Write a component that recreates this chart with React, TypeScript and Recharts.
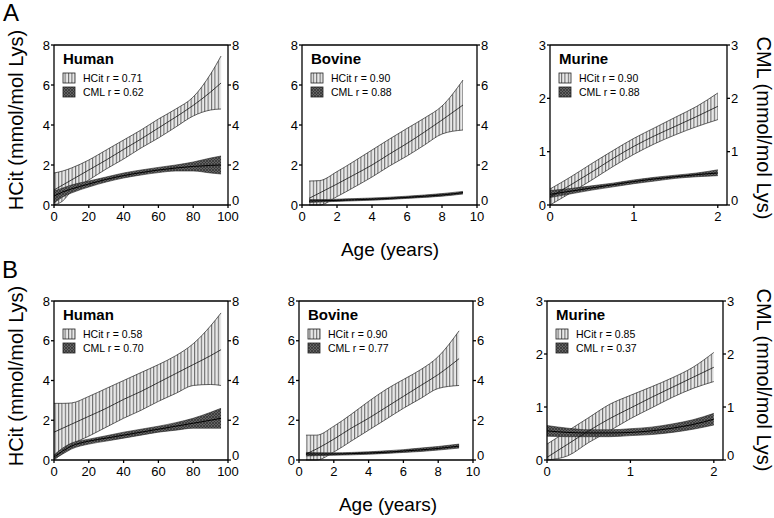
import React from "react";
import {
  ComposedChart,
  Area,
  Line,
  XAxis,
  YAxis,
  ReferenceLine,
} from "recharts";

// age grids (years)
const humanAge = [0, 5, 10, 20, 30, 40, 50, 60, 70, 80, 90, 96];
const bovineAge = [0.4, 1, 2, 3, 4, 5, 6, 7, 8, 9.2];
const murineAge = [0, 0.25, 0.5, 0.75, 1, 1.25, 1.5, 1.75, 2];

// A - Human
const humanA_hcitLo = [0, 0.2, 0.7, 1.25, 1.8, 2.3, 2.85, 3.35, 3.9, 4.45, 4.75, 4.8];
const humanA_hcit = [0.75, 1.0, 1.25, 1.75, 2.25, 2.78, 3.3, 3.85, 4.4, 4.98, 5.65, 6.1];
const humanA_hcitHi = [1.6, 1.7, 1.85, 2.25, 2.75, 3.25, 3.75, 4.3, 4.8, 5.4, 6.55, 7.45];
const humanA_cmlLo = [0.1, 0.4, 0.6, 0.9, 1.15, 1.35, 1.5, 1.62, 1.7, 1.7, 1.6, 1.55];
const humanA_cml = [0.45, 0.65, 0.8, 1.05, 1.28, 1.47, 1.62, 1.75, 1.85, 1.93, 1.98, 2.0];
const humanA_cmlHi = [0.7, 0.85, 1.0, 1.2, 1.4, 1.6, 1.75, 1.88, 2.0, 2.15, 2.35, 2.45];

// A - Bovine
const bovineA_hcitLo = [0, 0, 0.42, 0.9, 1.4, 1.95, 2.45, 3.0, 3.55, 3.75];
const bovineA_hcit = [0.33, 0.6, 1.05, 1.52, 2.0, 2.55, 3.08, 3.65, 4.25, 5.0];
const bovineA_hcitHi = [1.2, 1.22, 1.67, 2.2, 2.75, 3.3, 3.83, 4.35, 4.95, 6.25];
const bovineA_cmlLo = [0.13, 0.15, 0.18, 0.21, 0.24, 0.28, 0.33, 0.38, 0.44, 0.55];
const bovineA_cml = [0.2, 0.21, 0.23, 0.26, 0.29, 0.33, 0.38, 0.44, 0.5, 0.62];
const bovineA_cmlHi = [0.27, 0.27, 0.29, 0.32, 0.35, 0.39, 0.44, 0.5, 0.57, 0.68];

// A - Murine
const murineA_hcitLo = [0, 0.23, 0.47, 0.72, 0.95, 1.15, 1.32, 1.47, 1.6];
const murineA_hcit = [0.15, 0.38, 0.62, 0.87, 1.1, 1.3, 1.48, 1.66, 1.85];
const murineA_hcitHi = [0.3, 0.53, 0.78, 1.02, 1.25, 1.45, 1.65, 1.85, 2.1];
const murineA_cmlLo = [0.14, 0.21, 0.28, 0.34, 0.4, 0.45, 0.5, 0.53, 0.55];
const murineA_cml = [0.2, 0.26, 0.32, 0.38, 0.44, 0.49, 0.53, 0.57, 0.6];
const murineA_cmlHi = [0.27, 0.31, 0.36, 0.41, 0.47, 0.52, 0.56, 0.6, 0.66];

// B - Human
const humanB_hcitLo = [0, 0.35, 0.75, 1.2, 1.65, 2.1, 2.5, 2.95, 3.35, 3.75, 3.8, 3.75];
const humanB_hcit = [1.4, 1.6, 1.8, 2.2, 2.6, 3.05, 3.45, 3.9, 4.35, 4.8, 5.25, 5.55];
const humanB_hcitHi = [2.85, 2.85, 2.87, 3.2, 3.6, 4.0, 4.4, 4.8, 5.25, 5.85, 6.75, 7.4];
const humanB_cmlLo = [0.05, 0.3, 0.55, 0.8, 0.95, 1.1, 1.25, 1.4, 1.5, 1.6, 1.6, 1.6];
const humanB_cml = [0.15, 0.45, 0.7, 0.95, 1.1, 1.25, 1.4, 1.55, 1.7, 1.85, 2.0, 2.1];
const humanB_cmlHi = [0.25, 0.6, 0.85, 1.05, 1.22, 1.4, 1.55, 1.7, 1.88, 2.1, 2.4, 2.6];

// B - Bovine
const bovineB_hcitLo = [0, 0, 0.4, 0.95, 1.5, 2.05, 2.6, 3.1, 3.6, 3.75];
const bovineB_hcit = [0.3, 0.55, 1.05, 1.6, 2.1, 2.65, 3.2, 3.75, 4.3, 5.1];
const bovineB_hcitHi = [1.25, 1.25, 1.7, 2.3, 2.95, 3.55, 4.05, 4.55, 5.2, 6.5];
const bovineB_cmlLo = [0.2, 0.22, 0.24, 0.26, 0.29, 0.33, 0.38, 0.43, 0.5, 0.6];
const bovineB_cml = [0.3, 0.3, 0.3, 0.32, 0.35, 0.39, 0.45, 0.51, 0.58, 0.7];
const bovineB_cmlHi = [0.38, 0.37, 0.36, 0.38, 0.41, 0.46, 0.52, 0.6, 0.68, 0.8];

// B - Murine
const murineB_hcitLo = [0, 0.08, 0.33, 0.55, 0.78, 0.98, 1.18, 1.35, 1.48];
const murineB_hcit = [0.05, 0.3, 0.55, 0.78, 0.98, 1.18, 1.37, 1.56, 1.75];
const murineB_hcitHi = [0.3, 0.55, 0.8, 1.05, 1.22, 1.38, 1.55, 1.75, 2.03];
const murineB_cmlLo = [0.45, 0.44, 0.44, 0.44, 0.46, 0.48, 0.52, 0.58, 0.66];
const murineB_cml = [0.55, 0.52, 0.51, 0.51, 0.52, 0.55, 0.6, 0.67, 0.77];
const murineB_cmlHi = [0.65, 0.6, 0.57, 0.57, 0.59, 0.62, 0.68, 0.76, 0.88];

// axis ticks
const humanTicks = [0, 20, 40, 60, 80, 100];
const bovineTicks = [0, 2, 4, 6, 8, 10];
const murineTicks = [0, 1, 2];
const eightTicks = [0, 2, 4, 6, 8];
const threeTicks = [0, 1, 2, 3];

const FONT = "'Liberation Sans', Arial, Helvetica, sans-serif";

const buildRows = (
  age: number[],
  hLo: number[],
  hMid: number[],
  hHi: number[],
  cLo: number[],
  cMid: number[],
  cHi: number[]
) =>
  age.map((a, i) => ({
    age: a,
    hcitBand: [hLo[i], hHi[i]],
    hcit: hMid[i],
    cmlBand: [cLo[i], cHi[i]],
    cml: cMid[i],
  }));

interface Panel {
  id: string;
  name: string;
  hcitR: string;
  cmlR: string;
  left: number;
  top: number;
  w: number;
  h: number;
  xMax: number;
  xTicks: number[];
  yMax: number;
  yTicks: number[];
  rows: ReturnType<typeof buildRows>;
}

const panels: Panel[] = [
  {
    id: "a1", name: "Human", hcitR: "0.71", cmlR: "0.62",
    left: 54, top: 45, w: 174, h: 160,
    xMax: 100, xTicks: humanTicks, yMax: 8, yTicks: eightTicks,
    rows: buildRows(humanAge, humanA_hcitLo, humanA_hcit, humanA_hcitHi, humanA_cmlLo, humanA_cml, humanA_cmlHi),
  },
  {
    id: "a2", name: "Bovine", hcitR: "0.90", cmlR: "0.88",
    left: 302, top: 45, w: 175, h: 160,
    xMax: 10, xTicks: bovineTicks, yMax: 8, yTicks: eightTicks,
    rows: buildRows(bovineAge, bovineA_hcitLo, bovineA_hcit, bovineA_hcitHi, bovineA_cmlLo, bovineA_cml, bovineA_cmlHi),
  },
  {
    id: "a3", name: "Murine", hcitR: "0.90", cmlR: "0.88",
    left: 550, top: 45, w: 177, h: 160,
    xMax: 2.11, xTicks: murineTicks, yMax: 3, yTicks: threeTicks,
    rows: buildRows(murineAge, murineA_hcitLo, murineA_hcit, murineA_hcitHi, murineA_cmlLo, murineA_cml, murineA_cmlHi),
  },
  {
    id: "b1", name: "Human", hcitR: "0.58", cmlR: "0.70",
    left: 54, top: 301, w: 174, h: 159,
    xMax: 100, xTicks: humanTicks, yMax: 8, yTicks: eightTicks,
    rows: buildRows(humanAge, humanB_hcitLo, humanB_hcit, humanB_hcitHi, humanB_cmlLo, humanB_cml, humanB_cmlHi),
  },
  {
    id: "b2", name: "Bovine", hcitR: "0.90", cmlR: "0.77",
    left: 299, top: 301, w: 174, h: 159,
    xMax: 10, xTicks: bovineTicks, yMax: 8, yTicks: eightTicks,
    rows: buildRows(bovineAge, bovineB_hcitLo, bovineB_hcit, bovineB_hcitHi, bovineB_cmlLo, bovineB_cml, bovineB_cmlHi),
  },
  {
    id: "b3", name: "Murine", hcitR: "0.85", cmlR: "0.37",
    left: 547, top: 301, w: 176, h: 159,
    xMax: 2.11, xTicks: murineTicks, yMax: 3, yTicks: threeTicks,
    rows: buildRows(murineAge, murineB_hcitLo, murineB_hcit, murineB_hcitHi, murineB_cmlLo, murineB_cml, murineB_cmlHi),
  },
];

// hatch patterns, shared by the charts and the legend swatches
const Patterns: React.FC<{ suffix: string }> = ({ suffix }) => (
  <>
    <pattern id={`hcit-${suffix}`} patternUnits="userSpaceOnUse" width="3.4" height="10">
      <rect width="3.4" height="10" fill="#e8e8e8" />
      <line x1="0.6" y1="0" x2="0.6" y2="10" stroke="#333" strokeWidth="0.8" />
    </pattern>
    <pattern id={`cml-${suffix}`} patternUnits="userSpaceOnUse" width="3" height="3">
      <rect width="3" height="3" fill="#646464" />
      <path d="M0,0 L3,3 M3,0 L0,3" stroke="#303030" strokeWidth="0.7" />
    </pattern>
  </>
);

const AX = { stroke: "#000", strokeWidth: 1.3 };
const TICK = { fill: "#000", fontSize: 13, fontFamily: FONT };

// right axis labels; the "0" sits a bit higher so it clears the x labels
const RightTick = (props: any) => {
  const { x, y, payload } = props;
  return (
    <text
      x={x}
      y={y}
      dy={payload.value === 0 ? "0em" : "0.355em"}
      textAnchor="start"
      fill="#000"
      fontSize={13}
      fontFamily={FONT}
    >
      {payload.value}
    </text>
  );
};

const PanelChart: React.FC<{ p: Panel }> = ({ p }) => (
  <div style={{ position: "absolute", left: p.left - 30, top: p.top - 10 }}>
    <ComposedChart
      width={p.w + 60}
      height={p.h + 35}
      data={p.rows}
      margin={{ top: 10, right: 0, bottom: 0, left: 0 }}
    >
      <defs>
        <Patterns suffix={p.id} />
      </defs>
      <XAxis
        type="number"
        dataKey="age"
        domain={[0, p.xMax]}
        ticks={p.xTicks}
        height={25}
        tickSize={3}
        tickMargin={4}
        axisLine={AX}
        tickLine={AX}
        tick={TICK}
        interval={0}
      />
      <YAxis
        yAxisId="l"
        domain={[0, p.yMax]}
        ticks={p.yTicks}
        width={30}
        tickSize={3}
        tickMargin={1}
        axisLine={AX}
        tickLine={AX}
        tick={TICK}
        interval={0}
      />
      <YAxis
        yAxisId="r"
        orientation="right"
        domain={[0, p.yMax]}
        ticks={p.yTicks}
        width={30}
        tickSize={3}
        tickMargin={1}
        axisLine={AX}
        tickLine={AX}
        tick={<RightTick />}
        interval={0}
      />
      <ReferenceLine yAxisId="l" y={p.yMax} stroke="#000" strokeWidth={1.3} />
      <Area
        yAxisId="l"
        type="monotone"
        dataKey="hcitBand"
        fill={`url(#hcit-${p.id})`}
        fillOpacity={1}
        stroke="#222"
        strokeWidth={0.7}
        isAnimationActive={false}
      />
      <Line
        yAxisId="l"
        type="monotone"
        dataKey="hcit"
        stroke="#111"
        strokeWidth={0.8}
        dot={false}
        isAnimationActive={false}
      />
      <Area
        yAxisId="r"
        type="monotone"
        dataKey="cmlBand"
        fill={`url(#cml-${p.id})`}
        fillOpacity={1}
        stroke="#222"
        strokeWidth={0.6}
        isAnimationActive={false}
      />
      <Line
        yAxisId="r"
        type="monotone"
        dataKey="cml"
        stroke="#000"
        strokeWidth={1}
        dot={false}
        isAnimationActive={false}
      />
    </ComposedChart>
  </div>
);

const Legend: React.FC<{ p: Panel }> = ({ p }) => (
  <g>
    <text x={p.left + 9} y={p.top + 19} fontSize={15} fontWeight="bold">
      {p.name}
    </text>
    <rect x={p.left + 9} y={p.top + 28} width={12} height={10} fill="url(#hcit-lg)" stroke="#222" strokeWidth={0.8} />
    <text x={p.left + 29} y={p.top + 37} fontSize={10.5}>
      HCit r = {p.hcitR}
    </text>
    <rect x={p.left + 9} y={p.top + 42} width={12} height={10} fill="url(#cml-lg)" stroke="#222" strokeWidth={0.8} />
    <text x={p.left + 29} y={p.top + 51} fontSize={10.5}>
      CML r = {p.cmlR}
    </text>
  </g>
);

const App: React.FC = () => (
  <div
    style={{
      position: "absolute",
      left: 0,
      top: 0,
      width: 774,
      height: 518,
      background: "#fff",
      fontFamily: FONT,
      overflow: "hidden",
    }}
  >
    {panels.map((p) => (
      <PanelChart key={p.id} p={p} />
    ))}
    <svg
      width={774}
      height={518}
      style={{ position: "absolute", left: 0, top: 0, pointerEvents: "none" }}
      fontFamily={FONT}
      fill="#000"
    >
      <defs>
        <Patterns suffix="lg" />
      </defs>
      <text x={3} y={21} fontSize={24}>A</text>
      <text x={2} y={278} fontSize={24}>B</text>
      <text x={23} y={120} fontSize={20} textAnchor="middle" transform="rotate(-90 23 120)">
        HCit (mmol/mol Lys)
      </text>
      <text x={23} y={376} fontSize={20} textAnchor="middle" transform="rotate(-90 23 376)">
        HCit (mmol/mol Lys)
      </text>
      <text x={757} y={128} fontSize={20} textAnchor="middle" transform="rotate(90 757 128)">
        CML (mmol/mol Lys)
      </text>
      <text x={757} y={380} fontSize={20} textAnchor="middle" transform="rotate(90 757 380)">
        CML (mmol/mol Lys)
      </text>
      <text x={390} y={256} fontSize={19} textAnchor="middle">Age (years)</text>
      <text x={388} y={511} fontSize={19} textAnchor="middle">Age (years)</text>
      {panels.map((p) => (
        <Legend key={p.id} p={p} />
      ))}
    </svg>
  </div>
);

export default App;
